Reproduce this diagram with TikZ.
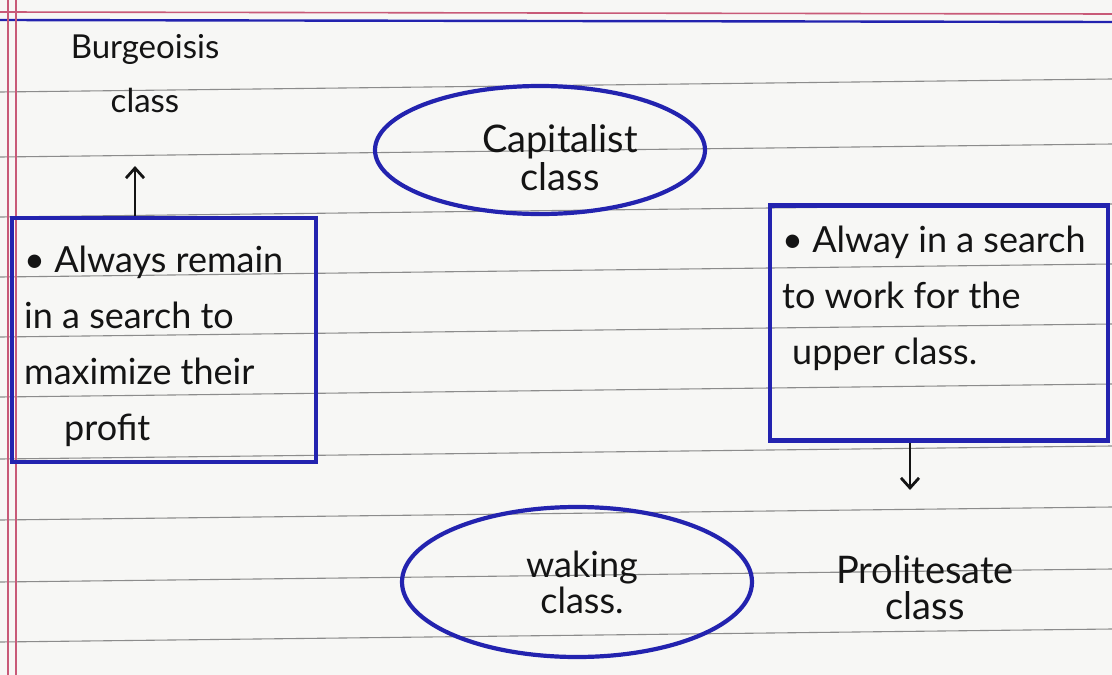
\documentclass[tikz,border=0pt]{standalone}
\usepackage{fontspec}
\setmainfont{Lato}
\usetikzlibrary{shapes.geometric,arrows.meta}
\definecolor{ink}{RGB}{35,35,175}
\definecolor{pen}{RGB}{20,20,20}
\definecolor{paper}{RGB}{247,247,245}
\definecolor{rule}{RGB}{140,140,140}
\definecolor{margin}{RGB}{200,90,120}
\tikzset{
  inkbox/.style={draw=ink,line width=4.2pt,rectangle,inner sep=0pt},
  inkoval/.style={draw=ink,line width=4.2pt,ellipse,inner sep=0pt},
  hand/.style={text=pen,font=\fontsize{34}{36}\selectfont,inner sep=0pt},
  note/.style={hand,align=left,anchor=north west,font=\fontsize{36}{56}\selectfont},
  penarrow/.style={draw=pen,line width=2.8pt,-{Straight Barb[length=10pt,width=18pt]}},
  ruled/.style={draw=rule,line width=1.1pt}
}
\begin{document}
\begin{tikzpicture}[x=1pt,y=-1pt]
\useasboundingbox (0,0) rectangle (1112,675);
\fill[paper] (0,0) rectangle (1112,675);
% ruled lines
\foreach \yy in {85,150,210,270,330,390,452,513,575,635}
  \draw[ruled] (0,\yy+7) -- (1112,\yy-6);
% top border
\draw[margin,line width=1.6pt] (0,12) -- (1112,14);
\draw[ink,line width=2.4pt] (0,20) -- (1112,22);
% left margin
\draw[margin,line width=1.8pt] (8,0) -- (8,675);
\draw[margin,line width=1.8pt] (16,0) -- (16,675);

% left box
\node[inkbox,minimum width=304pt,minimum height=244pt] (lbox) at (164,340) {};
\node[note] (ltext) at (24,246) {• Always remain\\in a search to\\maximize their\\\hspace{40pt}profit};
\node[hand,align=center,font=\fontsize{33}{54}\selectfont] (burg) at (145,74) {Burgeoisis\\class};
\coordinate (uptip) at (135,166);
\draw[penarrow] (lbox.north -| uptip) -- (uptip);

% capitalist oval
\node[inkoval,minimum width=330pt,minimum height=128pt] (cap) at (540,150) {};
\node[hand,align=center,font=\fontsize{38}{38}\selectfont] (captext) at (560,158) {Capitalist\\class};

% right box
\node[inkbox,minimum width=338pt,minimum height=235pt] (rbox) at (939,323) {};
\node[note] (rtext) at (782,226) {• Alway in a search\\to work for the\\\hspace{10pt}upper class.};
\coordinate (downtip) at (910,490);
\draw[penarrow] (rbox.south -| downtip) -- (downtip);

% working oval
\node[inkoval,minimum width=350pt,minimum height=150pt] (work) at (577,582) {};
\node[hand,align=center,font=\fontsize{36}{36}\selectfont] (worktext) at (582,582) {waking\\class.};

% proletariat label
\node[hand,align=center,font=\fontsize{38}{36}\selectfont] (prol) at (925,588) {Prolitesate\\class};
\end{tikzpicture}
\end{document}
